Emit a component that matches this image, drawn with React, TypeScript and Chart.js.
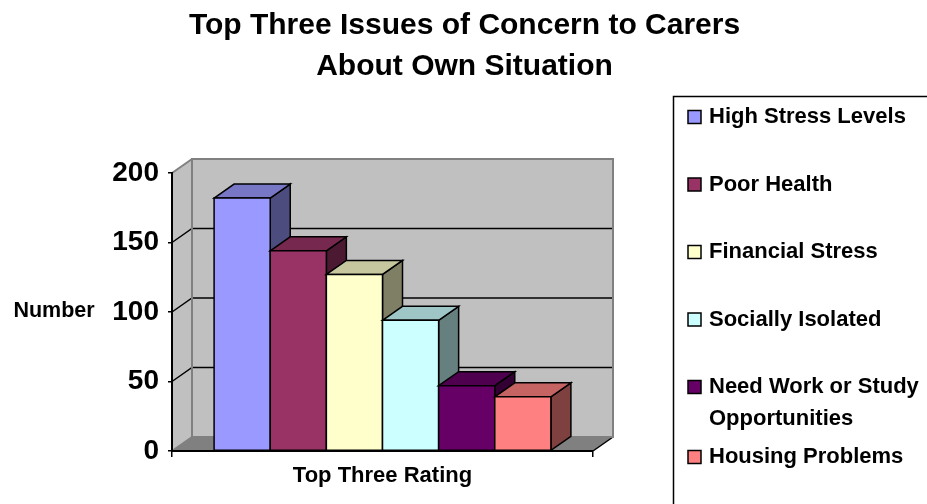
import React, { useEffect, useRef } from "react";
import { Chart, registerables } from "chart.js";

Chart.register(...registerables);

// ---- data ----
const titleLines = ["Top Three Issues of Concern to Carers", "About Own Situation"];
const categories = ["Top Three Rating"];
const seriesNames = [
  "High Stress Levels",
  "Poor Health",
  "Financial Stress",
  "Socially Isolated",
  "Need Work or Study Opportunities",
  "Housing Problems",
];
const seriesValues = [182, 144, 127, 94, 47, 39];
const frontColors = ["#9999FF", "#993366", "#FFFFCC", "#CCFFFF", "#660066", "#FF8080"];
const topColors = ["#7777C6", "#77284F", "#C6C69F", "#9FC6C6", "#4F004F", "#C66363"];
const sideColors = ["#4C4C7F", "#4C1933", "#7F7F66", "#667F7F", "#330033", "#7F4040"];
const yTicks = [0, 50, 100, 150, 200];
const yAxisTitle = "Number";

// ---- style ----
const FONT = '"Liberation Sans", Arial, Helvetica, sans-serif';
const DX = 20;
const DY = -14;

function poly(ctx: CanvasRenderingContext2D, pts: number[][]) {
  ctx.beginPath();
  ctx.moveTo(pts[0][0], pts[0][1]);
  for (let i = 1; i < pts.length; i++) ctx.lineTo(pts[i][0], pts[i][1]);
  ctx.closePath();
}

const wallsPlugin = {
  id: "walls3d",
  beforeDraw(chart: any) {
    const { ctx, chartArea: a, scales } = chart;
    const ys = scales.y;
    const L = a.left, R = a.right, T = a.top, B = a.bottom;
    ctx.save();
    ctx.fillStyle = "#C0C0C0";
    poly(ctx, [[L, T], [L + DX, T + DY], [L + DX, B + DY], [L, B]]);
    ctx.fill();
    ctx.fillRect(L + DX, T + DY, R - L, B - T);
    ctx.fillStyle = "#808080";
    poly(ctx, [[L, B], [R, B], [R + DX, B + DY], [L + DX, B + DY]]);
    ctx.fill();
    // grid lines on left wall and back wall
    ctx.strokeStyle = "#000";
    ctx.lineWidth = 1.5;
    for (const v of yTicks) {
      if (v === yTicks[0] || v === yTicks[yTicks.length - 1]) continue;
      const y = ys.getPixelForValue(v);
      ctx.beginPath();
      ctx.moveTo(L, y);
      ctx.lineTo(L + DX, y + DY);
      ctx.lineTo(R + DX, y + DY);
      ctx.stroke();
    }
    // floor right edge
    ctx.beginPath();
    ctx.moveTo(R, B);
    ctx.lineTo(R + DX, B + DY);
    ctx.stroke();
    // wall outlines
    ctx.strokeStyle = "#808080";
    ctx.lineWidth = 2;
    ctx.strokeRect(L + DX, T + DY, R - L, B - T);
    ctx.beginPath();
    ctx.moveTo(L, T);
    ctx.lineTo(L + DX, T + DY);
    ctx.stroke();
    ctx.beginPath();
    ctx.moveTo(L, B);
    ctx.lineTo(L + DX, B + DY);
    ctx.stroke();
    ctx.restore();
  },
};

const barsPlugin = {
  id: "bars3d",
  beforeDatasetsDraw(chart: any) {
    const { ctx } = chart;
    ctx.save();
    ctx.lineWidth = 1.5;
    ctx.strokeStyle = "#000";
    ctx.lineJoin = "miter";
    for (let i = 0; i < chart.data.datasets.length; i++) {
      const meta = chart.getDatasetMeta(i);
      const el = meta.data[0];
      if (!el) continue;
      const { x, y, base, width } = el.getProps(["x", "y", "base", "width"], true);
      const l = x - width / 2;
      const r = x + width / 2;
      // side face
      ctx.fillStyle = sideColors[i];
      poly(ctx, [[r, y], [r + DX, y + DY], [r + DX, base + DY], [r, base]]);
      ctx.fill();
      ctx.stroke();
      // top face
      ctx.fillStyle = topColors[i];
      poly(ctx, [[l, y], [l + DX, y + DY], [r + DX, y + DY], [r, y]]);
      ctx.fill();
      ctx.stroke();
      // front face
      ctx.fillStyle = frontColors[i];
      poly(ctx, [[l, y], [r, y], [r, base], [l, base]]);
      ctx.fill();
      ctx.stroke();
    }
    ctx.restore();
    return false;
  },
};

const textPlugin = {
  id: "texts",
  afterDraw(chart: any) {
    const { ctx, width } = chart;
    ctx.save();
    ctx.fillStyle = "#000";
    // title
    ctx.font = `bold 30px ${FONT}`;
    ctx.textAlign = "center";
    ctx.textBaseline = "alphabetic";
    ctx.fillText(titleLines[0], width / 2 + 1, 34);
    ctx.fillText(titleLines[1], width / 2 + 1, 75);
    // y axis title
    ctx.font = `bold 21.5px ${FONT}`;
    ctx.textBaseline = "middle";
    ctx.fillText(yAxisTitle, 54, 311);
    // legend
    const boxX = 673, boxY = 96;
    ctx.strokeStyle = "#000";
    ctx.lineWidth = 1.5;
    ctx.strokeRect(boxX + 0.5, boxY + 0.5, 300, 460);
    ctx.textAlign = "left";
    ctx.font = `bold 22px ${FONT}`;
    const maxW = 214;
    let yy = 117;
    for (let i = 0; i < seriesNames.length; i++) {
      // wrap text
      const words = seriesNames[i].split(" ");
      const lines: string[] = [];
      let cur = "";
      for (const w of words) {
        const test = cur ? cur + " " + w : w;
        if (ctx.measureText(test).width > maxW && cur) {
          lines.push(cur);
          cur = w;
        } else cur = test;
      }
      lines.push(cur);
      ctx.fillStyle = frontColors[i];
      ctx.fillRect(688, yy - 6.5, 13, 13);
      ctx.lineWidth = 1.5;
      ctx.strokeRect(688, yy - 6.5, 13, 13);
      ctx.fillStyle = "#000";
      lines.forEach((t, k) => ctx.fillText(t, 709, yy + k * 32));
      yy += lines.length > 1 ? 70 : 67.5;
    }
    ctx.restore();
  },
};

export default function App() {
  const ref = useRef<HTMLCanvasElement>(null);
  useEffect(() => {
    if (!ref.current) return;
    const chart = new Chart(ref.current, {
      type: "bar",
      data: {
        labels: categories,
        datasets: seriesNames.map((name, i) => ({
          label: name,
          data: [seriesValues[i]],
          backgroundColor: frontColors[i],
          borderColor: "#000",
          borderWidth: 1.5,
          categoryPercentage: 0.8,
          barPercentage: 1,
        })),
      },
      options: {
        responsive: false,
        animation: false,
        layout: { padding: { top: 173, left: 0, right: 334, bottom: 0 } },
        plugins: {
          legend: { display: false },
          title: { display: false },
          tooltip: { enabled: false },
        },
        scales: {
          x: {
            afterFit: (s: any) => { s.height = 53; },
            grid: {
              display: true,
              drawOnChartArea: false,
              drawTicks: true,
              tickLength: 6,
              color: "#000",
              lineWidth: 1.5,
            },
            border: { display: true, color: "#000", width: 2 },
            ticks: {
              color: "#000",
              padding: 6,
              font: { family: FONT, size: 22, weight: "bold" },
            },
          },
          y: {
            min: yTicks[0],
            max: yTicks[yTicks.length - 1],
            afterFit: (s: any) => { s.width = 172; },
            grid: {
              display: true,
              drawOnChartArea: false,
              drawTicks: true,
              tickLength: 4,
              color: "#000",
              lineWidth: 1.5,
            },
            border: { display: true, color: "#000", width: 2 },
            ticks: {
              stepSize: yTicks[1] - yTicks[0],
              color: "#000",
              padding: 9,
              font: { family: FONT, size: 28, weight: "bold" },
            },
          },
        },
      },
      plugins: [wallsPlugin, barsPlugin, textPlugin],
    } as any);
    return () => chart.destroy();
  }, []);
  return (
    <div style={{ position: "absolute", left: 0, top: 0, width: 927, height: 504 }}>
      <canvas ref={ref} width={927} height={504} style={{ display: "block" }} />
    </div>
  );
}
